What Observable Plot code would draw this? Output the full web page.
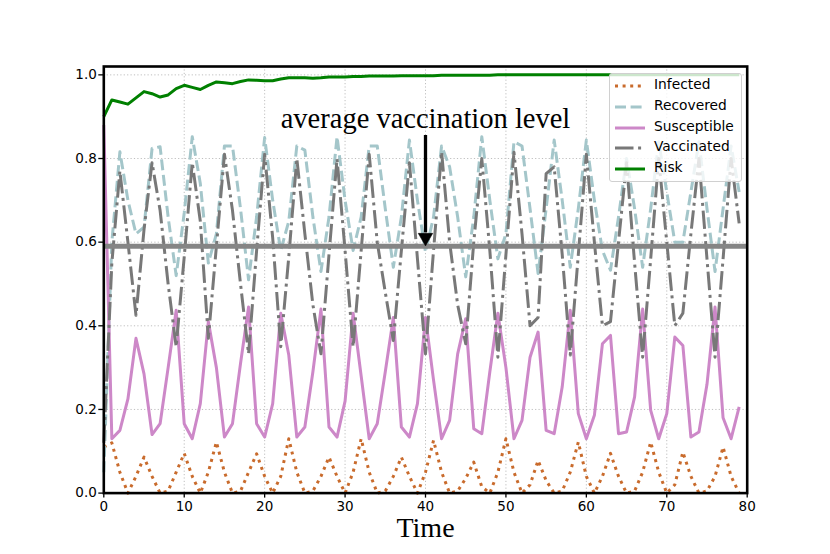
<!DOCTYPE html>
<html>
<head>
<meta charset="utf-8">
<script src="https://cdn.jsdelivr.net/npm/d3@7"></script>
<script src="https://cdn.jsdelivr.net/npm/@observablehq/plot@0.6"></script>
<style>
  html, body { margin: 0; padding: 0; background: #fff; }
  #wrap { position: relative; width: 830px; height: 554px; }
  #legend { position: absolute; left: 609px; top: 73px; width: 133px; height: 109px;
    background: rgba(255,255,255,0.8); border: 1px solid #d0d0d0; border-radius: 3px; box-sizing: border-box;
    font-family: "DejaVu Sans", sans-serif; font-size: 13.8px; color: #000; }
  .row { position: absolute; left: 0; height: 20px; width: 100%; }
  .row svg { position: absolute; left: 4px; top: 5px; }
  .row span { position: absolute; left: 44px; top: 0px; white-space: nowrap; }
</style>
</head>
<body>
<div id="wrap"></div>
<script>
// ---- data ----
const time = Array.from({length: 80}, (_, i) => i);
const xTicks = [0, 10, 20, 30, 40, 50, 60, 70, 80];
const yTicks = [0, 0.2, 0.4, 0.6, 0.8, 1.0];

const infected = [
  0.11,0.12,0.05,0.0,0.04,0.086,0.04,0.0,0.005,0.05,
  0.095,0.04,0.0,0.05,0.122,0.05,0.0,0.005,0.05,0.094,
  0.04,0.0,0.04,0.13,0.05,0.0,0.005,0.04,0.086,0.04,
  0.0,0.05,0.13,0.05,0.0,0.005,0.04,0.086,0.04,0.0,
  0.05,0.126,0.05,0.0,0.005,0.035,0.074,0.015,0.0,0.05,
  0.13,0.05,0.0,0.02,0.078,0.03,0.0,0.005,0.05,0.122,
  0.04,0.0,0.04,0.095,0.04,0.0,0.005,0.05,0.122,0.05,
  0.0,0.02,0.098,0.04,0.0,0.005,0.04,0.11,0.04,0.0
];
const recovered = [
  0.05,0.60,0.816,0.70,0.62,0.636,0.824,0.828,0.66,0.52,
  0.67,0.852,0.74,0.55,0.62,0.83,0.83,0.68,0.51,0.66,
  0.85,0.70,0.58,0.65,0.83,0.82,0.66,0.53,0.66,0.852,
  0.70,0.58,0.66,0.83,0.83,0.68,0.54,0.66,0.844,0.70,
  0.576,0.66,0.83,0.78,0.66,0.517,0.66,0.852,0.70,0.56,
  0.62,0.84,0.83,0.68,0.525,0.68,0.844,0.70,0.54,0.68,
  0.844,0.70,0.58,0.533,0.66,0.80,0.68,0.54,0.68,0.84,
  0.72,0.60,0.60,0.72,0.84,0.68,0.53,0.68,0.83,0.72
];
const susceptible = [
  0.88,0.13,0.15,0.225,0.37,0.285,0.14,0.166,0.30,0.437,
  0.166,0.13,0.214,0.41,0.30,0.134,0.166,0.31,0.445,0.166,
  0.134,0.214,0.43,0.33,0.134,0.158,0.29,0.44,0.158,0.134,
  0.22,0.43,0.28,0.13,0.166,0.29,0.42,0.158,0.134,0.214,
  0.42,0.27,0.13,0.174,0.333,0.417,0.154,0.142,0.29,0.43,
  0.30,0.13,0.174,0.325,0.385,0.15,0.142,0.254,0.437,0.19,
  0.13,0.186,0.357,0.377,0.142,0.146,0.23,0.44,0.198,0.13,
  0.19,0.373,0.353,0.134,0.146,0.26,0.445,0.18,0.13,0.206
];
const vaccinated = [
  0.12,0.55,0.77,0.60,0.425,0.63,0.79,0.676,0.50,0.35,
  0.565,0.79,0.65,0.37,0.59,0.81,0.676,0.50,0.333,0.58,
  0.81,0.61,0.35,0.565,0.80,0.62,0.45,0.333,0.57,0.80,
  0.58,0.35,0.58,0.81,0.60,0.48,0.365,0.58,0.79,0.56,
  0.333,0.58,0.816,0.60,0.45,0.357,0.60,0.80,0.58,0.325,
  0.57,0.815,0.62,0.40,0.42,0.764,0.78,0.57,0.33,0.57,
  0.81,0.60,0.40,0.41,0.60,0.79,0.55,0.325,0.56,0.80,
  0.60,0.40,0.43,0.62,0.80,0.56,0.325,0.56,0.80,0.645
];
const risk = [
  0.900,0.940,0.935,0.930,0.945,0.960,0.955,0.947,0.952,0.967,
  0.975,0.970,0.965,0.975,0.983,0.981,0.979,0.984,0.988,0.987,
  0.986,0.986,0.990,0.993,0.993,0.993,0.992,0.993,0.995,0.995,
  0.995,0.996,0.996,0.997,0.997,0.997,0.997,0.998,0.998,0.998,
  0.998,0.998,0.999,0.999,0.999,0.999,0.999,0.999,0.999,1.000,
  1.000,1.000,1.000,1.000,1.000,1.000,1.000,1.000,1.000,1.000,
  1.000,1.000,1.000,1.000,1.000,1.000,1.000,1.000,1.000,1.000,
  1.000,1.000,1.000,1.000,1.000,1.000,1.000,1.000,1.000,1.000
];
const seriesNames = ["Infected", "Recovered", "Susceptible", "Vaccinated", "Risk"];
const seriesValues = [infected, recovered, susceptible, vaccinated, risk];

const avgLevel = [0.59];
const annotationLabel = ["average vaccination level"];
const annotationX = 40;
const annotationTextY = 0.874;
const arrowTop = 0.855;
const arrowTip = 0.592;
const xLabel = "Time";

// ---- styles ----
const styles = {
  Infected:    {stroke: "#c96b2c", dash: "3,4.6"},
  Recovered:   {stroke: "#a4c6ca", dash: "11,4.6"},
  Susceptible: {stroke: "#cd88c8", dash: null},
  Vaccinated:  {stroke: "#787878", dash: "18.5,4.6,3,4.6"},
  Risk:        {stroke: "#008000", dash: null}
};
const lw = 3;

const lineMarks = seriesNames.map((name, k) => {
  const rows = time.map((t, i) => ({t, v: seriesValues[k][i]}));
  return Plot.line(rows, {
    x: "t", y: "v", stroke: styles[name].stroke, strokeWidth: lw,
    strokeDasharray: styles[name].dash, strokeLinecap: "butt", strokeLinejoin: "round"
  });
});

const chart = Plot.plot({
  width: 830, height: 554,
  marginLeft: 103.3, marginRight: 83.3, marginTop: 66, marginBottom: 61.4,
  x: {domain: [0, 80]},
  y: {domain: [0, 1.02]},
  style: {fontFamily: "DejaVu Sans", fontSize: "13.5px", color: "black", background: "white", overflow: "visible"},
  marks: [
    Plot.gridX(xTicks, {stroke: "#b8b8b8", strokeOpacity: 1, strokeWidth: 0.9, strokeDasharray: "1.2,2.2"}),
    Plot.gridY(yTicks, {stroke: "#b8b8b8", strokeOpacity: 1, strokeWidth: 0.9, strokeDasharray: "1.2,2.2"}),
    ...lineMarks,
    Plot.ruleY(avgLevel, {stroke: "#858585", strokeWidth: 5}),
    Plot.ruleX([annotationX], {y1: arrowTop, y2: arrowTip + 0.03, stroke: "black", strokeWidth: 3.3}),
    Plot.dot([annotationX], {x: d => d, y: arrowTip + 0.019, symbol: "triangle", r: 5.4, rotate: 180, fill: "black", stroke: "black", strokeWidth: 0.5}),
    Plot.text(annotationLabel, {x: annotationX, y: annotationTextY, textAnchor: "middle", lineAnchor: "bottom",
      fontFamily: "Liberation Serif", fontSize: 28.5, fill: "black"}),
    Plot.frame({stroke: "black", strokeWidth: 2.6}),
    Plot.axisX(xTicks, {tickSize: 5, tickPadding: 3, label: null, strokeWidth: 1.3, fontSize: 13.5}),
    Plot.axisY(yTicks, {tickSize: 5, tickPadding: 2, label: null, strokeWidth: 1.3, fontSize: 13.5, tickFormat: d3.format(".1f")}),
    Plot.text([xLabel], {frameAnchor: "bottom", dy: 44, lineAnchor: "bottom", fontFamily: "Liberation Serif", fontSize: 28, fill: "black"})
  ]
});

const wrap = document.getElementById("wrap");
wrap.appendChild(chart);

// ---- legend ----
const legend = document.createElement("div");
legend.id = "legend";
seriesNames.forEach((name, k) => {
  const row = document.createElement("div");
  row.className = "row";
  row.style.top = (2 + k * 20.8) + "px";
  const st = styles[name];
  row.innerHTML = `<svg width="32" height="10"><line x1="1" y1="5" x2="31" y2="5" stroke="${st.stroke}" stroke-width="${lw}" ${st.dash ? `stroke-dasharray="${st.dash}"` : ""} stroke-linecap="butt"/></svg><span>${name}</span>`;
  legend.appendChild(row);
});
wrap.appendChild(legend);
</script>
</body>
</html>
